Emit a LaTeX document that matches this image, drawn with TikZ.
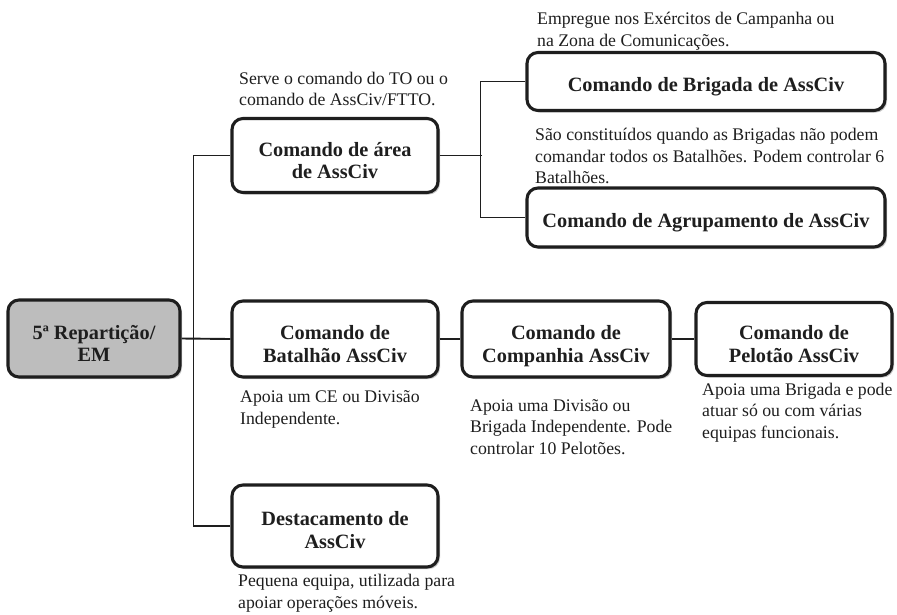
\documentclass[tikz,border=0pt]{standalone}
\usepackage{fontspec}
\setmainfont{Liberation Serif}
\usetikzlibrary{shadows}
\definecolor{ink}{HTML}{1E1E1E}
\definecolor{rootgray}{HTML}{BDBDBD}
\newcommand\bxtext[2]{\raisebox{-#1}[\height][\depth]{\begin{tabular}{@{}c@{}}#2\end{tabular}}}
\tikzset{
  box/.style={draw=ink, line width=3.1pt, rounded corners=11pt, fill=white,
    inner sep=0pt, text=ink,
    font=\fontsize{20.3}{22.5}\selectfont\bfseries,
    drop shadow={shadow xshift=2pt, shadow yshift=-2pt, opacity=0.35, fill=black!60}},
  rootbox/.style={box, fill=rootgray},
  note/.style={anchor=north west, inner sep=0pt, align=left, text=ink,
    font=\fontsize{17.75}{21.5}\selectfont},
  link/.style={draw=ink, line width=1.9pt}
}
\begin{document}
\begin{tikzpicture}[x=1pt,y=-1pt]
\useasboundingbox (0,0) rectangle (897,614);
% boxes
\node[rootbox, minimum width=172pt, minimum height=77pt] (root) at (94,338.5) {\bxtext{7.5pt}{5ª Repartição/\\EM}};
\node[box, minimum width=206pt, minimum height=74pt] (area) at (335,155.5) {\bxtext{7.5pt}{Comando de área\\de AssCiv}};
\node[box, minimum width=358pt, minimum height=58pt] (brig) at (706,81.5) {\bxtext{5.5pt}{Comando de Brigada de AssCiv}};
\node[box, minimum width=358pt, minimum height=59pt] (agr) at (706,217.5) {\bxtext{5.5pt}{Comando de Agrupamento de AssCiv}};
\node[box, minimum width=206pt, minimum height=76pt] (bat) at (335,339) {\bxtext{7.5pt}{Comando de\\Batalhão AssCiv}};
\node[box, minimum width=208pt, minimum height=76pt] (comp) at (566,339) {\bxtext{7.5pt}{Comando de\\Companhia AssCiv}};
\node[box, minimum width=196pt, minimum height=73pt] (pel) at (794,339) {\bxtext{7.5pt}{Comando de\\Pelotão AssCiv}};
\node[box, minimum width=206pt, minimum height=82pt] (dest) at (335,526) {\bxtext{6.5pt}{Destacamento de\\AssCiv}};
% notes
\node[note] (n1) at (537,12) {Empregue nos Exércitos de Campanha ou\\na Zona de Comunicações.};
\node[note] (n2) at (239,71.5) {Serve o comando do TO ou o\\comando de AssCiv/FTTO.};
\node[note] (n3) at (535,128) {São constituídos quando as Brigadas não podem\\comandar todos os Batalhões. Podem controlar 6\\Batalhões.};
\node[note] (n4) at (240,390.5) {Apoia um CE ou Divisão\\Independente.};
\node[note] (n5) at (470,399) {Apoia uma Divisão ou\\Brigada Independente. Pode\\controlar 10 Pelotões.};
\node[note] (n6) at (702,382.5) {Apoia uma Brigada e pode\\atuar só ou com várias\\equipas funcionais.};
\node[note] (n7) at (238,574) {Pequena equipa, utilizada para\\apoiar operações móveis.};
% connectors
\draw[link] (root.east) -- (bat.west);
\draw[link] (area.west) -- ++(-37,0) |- (dest.west);
\draw[link] (area.east) -- ++(42,0);
\draw[link] (brig.west) -- ++(-45,0) |- (agr.west);
\draw[link] (bat.east) -- (comp.west);
\draw[link] (comp.east) -- (pel.west);
\end{tikzpicture}
\end{document}
